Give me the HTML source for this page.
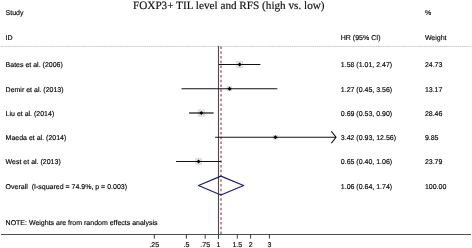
<!DOCTYPE html><html><head><meta charset="utf-8"><style>html,body{margin:0;padding:0;background:#fff;width:472px;height:248px;overflow:hidden}svg{display:block;will-change:transform}text{font-family:"Liberation Sans", sans-serif;font-size:7px;fill:#000;white-space:pre;stroke:#000;stroke-width:0.15px;text-rendering:geometricPrecision}</style></head><body>
<svg width="472" height="248" viewBox="0 0 472 248">
<text x="133" y="9" style="font-family:'Liberation Serif', serif;font-size:11.2px;fill:#111">FOXP3+ TIL level and RFS (high vs. low)</text>
<text x="5.6" y="15.3">Study</text>
<text x="424.9" y="15.1">%</text>
<text x="5.6" y="39.8">ID</text>
<text x="340.8" y="40">HR (95% CI)</text>
<text x="424.9" y="40">Weight</text>
<line x1="1.2" y1="46.4" x2="470.8" y2="46.4" stroke="#cacaca" stroke-width="1" stroke-dasharray="1.8 0.47"/>
<line x1="218.5" y1="46" x2="218.5" y2="238.6" stroke="#4a4a4a" stroke-width="1.1"/>
<line x1="221" y1="46.6" x2="221" y2="234.5" stroke="rgb(197,126,136)" stroke-width="1.8" stroke-dasharray="2.5 2.24"/>
<text x="5.6" y="67.25">Bates et al. (2006)</text>
<text x="340.8" y="67.25">1.58 (1.01, 2.47)</text>
<text x="424.9" y="67.25">24.73</text>
<rect x="236.82" y="61.64" width="5.72" height="5.72" fill="#e6e6e6" stroke="#cdcdcd" stroke-width="0.6"/>
<line x1="218.96" y1="64.50" x2="260.37" y2="64.50" stroke="#111" stroke-width="1.2"/>
<path d="M237.68 64.50L239.68 62.50L241.68 64.50L239.68 66.50Z" fill="#000"/>
<text x="5.6" y="91.50">Demir et al. (2013)</text>
<text x="340.8" y="91.50">1.27 (0.45, 3.56)</text>
<text x="424.9" y="91.50">13.17</text>
<rect x="227.48" y="86.66" width="4.17" height="4.17" fill="#e6e6e6" stroke="#cdcdcd" stroke-width="0.6"/>
<line x1="181.52" y1="88.75" x2="277.30" y2="88.75" stroke="#111" stroke-width="1.2"/>
<path d="M227.57 88.75L229.57 86.75L231.57 88.75L229.57 90.75Z" fill="#000"/>
<text x="5.6" y="115.75">Liu et al. (2014)</text>
<text x="340.8" y="115.75">0.69 (0.53, 0.90)</text>
<text x="424.9" y="115.75">28.46</text>
<rect x="198.25" y="109.93" width="6.14" height="6.14" fill="#e6e6e6" stroke="#cdcdcd" stroke-width="0.6"/>
<line x1="189.10" y1="113.00" x2="213.62" y2="113.00" stroke="#111" stroke-width="1.2"/>
<path d="M199.32 113.00L201.32 111.00L203.32 113.00L201.32 115.00Z" fill="#000"/>
<text x="5.6" y="140.00">Maeda et al. (2014)</text>
<text x="340.8" y="140.00">3.42 (0.93, 12.56)</text>
<text x="424.9" y="140.00">9.85</text>
<rect x="273.64" y="135.45" width="3.61" height="3.61" fill="#e6e6e6" stroke="#cdcdcd" stroke-width="0.6"/>
<line x1="215.14" y1="137.25" x2="336.00" y2="137.25" stroke="#111" stroke-width="1.2"/>
<polyline points="331.3,131.25 336,137.25 331.3,143.25" fill="none" stroke="#111" stroke-width="1.2"/>
<path d="M273.45 137.25L275.45 135.25L277.45 137.25L275.45 139.25Z" fill="#000"/>
<text x="5.6" y="164.25">West et al. (2013)</text>
<text x="340.8" y="164.25">0.65 (0.40, 1.06)</text>
<text x="424.9" y="164.25">23.79</text>
<rect x="195.75" y="158.70" width="5.61" height="5.61" fill="#e6e6e6" stroke="#cdcdcd" stroke-width="0.6"/>
<line x1="176.07" y1="161.50" x2="221.20" y2="161.50" stroke="#111" stroke-width="1.2"/>
<path d="M196.55 161.50L198.55 159.50L200.55 161.50L198.55 163.50Z" fill="#000"/>
<text x="5.6" y="188.50">Overall  (I-squared = 74.9%, p = 0.003)</text>
<text x="340.8" y="188.50">1.06 (0.64, 1.74)</text>
<text x="424.9" y="188.50">100.00</text>
<path d="M198.50 185.50L220.90 176.20L243.60 185.50L220.90 195.00Z" fill="none" stroke="#1e1e70" stroke-width="1.3" stroke-linejoin="round"/>
<text x="5.6" y="224.75">NOTE: Weights are from random effects analysis</text>
<line x1="1" y1="234.5" x2="471" y2="234.5" stroke="#4e4e4e" stroke-width="1.2"/>
<line x1="154.30" y1="234.5" x2="154.30" y2="238.6" stroke="#3a3a3a" stroke-width="1"/>
<text x="154.30" y="246.5" text-anchor="middle">.25</text>
<line x1="186.40" y1="234.5" x2="186.40" y2="238.6" stroke="#3a3a3a" stroke-width="1"/>
<text x="186.40" y="246.5" text-anchor="middle">.5</text>
<line x1="205.18" y1="234.5" x2="205.18" y2="238.6" stroke="#3a3a3a" stroke-width="1"/>
<text x="205.18" y="246.5" text-anchor="middle">.75</text>
<line x1="218.50" y1="234.5" x2="218.50" y2="238.6" stroke="#3a3a3a" stroke-width="1"/>
<text x="218.50" y="246.5" text-anchor="middle">1</text>
<line x1="237.28" y1="234.5" x2="237.28" y2="238.6" stroke="#3a3a3a" stroke-width="1"/>
<text x="237.28" y="246.5" text-anchor="middle">1.5</text>
<line x1="250.60" y1="234.5" x2="250.60" y2="238.6" stroke="#3a3a3a" stroke-width="1"/>
<text x="250.60" y="246.5" text-anchor="middle">2</text>
<line x1="269.38" y1="234.5" x2="269.38" y2="238.6" stroke="#3a3a3a" stroke-width="1"/>
<text x="269.38" y="246.5" text-anchor="middle">3</text>
</svg></body></html>
